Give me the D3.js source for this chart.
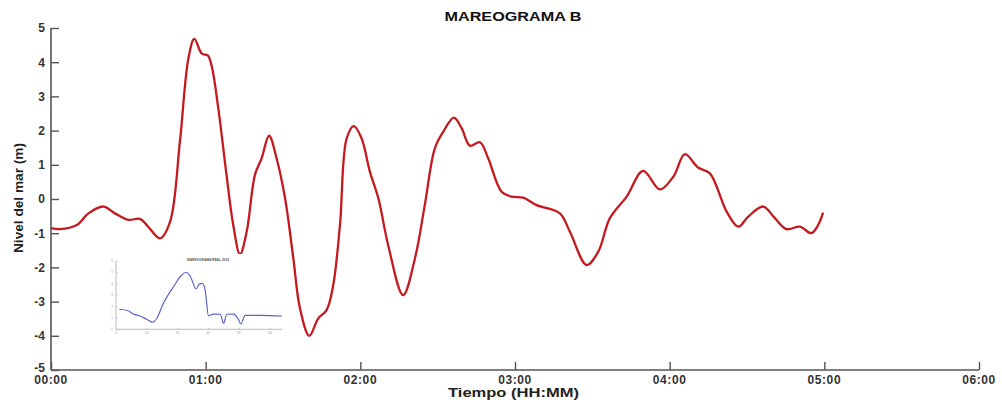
<!DOCTYPE html>
<html>
<head>
<meta charset="utf-8">
<script src="https://cdn.jsdelivr.net/npm/d3@7"></script>
<style>
html,body{margin:0;padding:0;background:#fff;}
svg{display:block;font-family:"Liberation Sans",Arial,sans-serif;}
</style>
</head>
<body>
<svg id="chart" width="1002" height="406"></svg>
<script>
// ---- data (time in minutes since 00:00, sea level in m) ----
const timeMin = [0,3.5,10,14.5,20.3,24.8,30,34.5,37.7,42.3,46.2,50,53.3,55.6,58.5,60.8,62.3,64.9,68.1,70.7,73.3,75.9,79.1,81.7,84.6,87.5,90.8,94,96.6,100.2,103.7,106.9,109.5,112.1,114.7,117.5,120.5,123.7,127,130.8,136.6,141.2,145,148.9,152.2,156.3,159.3,162.5,166.4,169.6,174.8,178.7,183.2,188.4,197.4,201.3,207.8,212.3,216.8,223.3,229.7,236.2,241.4,245.9,251,255.6,262.1,266.6,270.4,276.3,280.8,285.3,290.5,295,297.6,299.5];
const seaLevel = [-0.85,-0.88,-0.76,-0.42,-0.22,-0.42,-0.61,-0.58,-0.81,-1.15,-0.66,1.67,4.11,4.68,4.25,4.2,3.9,2.65,0.70,-0.76,-1.62,-0.96,0.70,1.19,1.85,1.19,0.02,-1.73,-3.2,-4.0,-3.49,-3.25,-2.51,-0.76,1.77,2.13,1.77,0.80,0.02,-1.35,-2.81,-1.73,-0.18,1.48,1.97,2.38,2.07,1.56,1.66,1.19,0.21,0.07,0.04,-0.18,-0.42,-0.96,-1.93,-1.54,-0.56,0.07,0.82,0.28,0.65,1.31,0.92,0.75,-0.37,-0.81,-0.52,-0.22,-0.56,-0.88,-0.81,-1.0,-0.76,-0.40];
const xTicks = [0,60,120,180,240,300,360];
const xTickLabels = ["00:00","01:00","02:00","03:00","04:00","05:00","06:00"];
const yTicks = [-5,-4,-3,-2,-1,0,1,2,3,4,5];

// inset (small reference mareogram)
const insetX = [0.11,0.40,0.56,0.78,1.0,1.20,1.33,1.54,1.87,2.14,2.28,2.41,2.61,2.70,2.81,2.90,3.01,3.17,3.39,3.50,3.61,3.82,3.98,4.06,4.20,4.69,5.40];
const insetY = [1.76,1.63,1.34,1.17,0.88,0.62,0.97,2.28,3.74,4.77,5.01,4.68,3.54,3.95,4.04,3.45,1.17,1.34,1.32,0.53,1.32,1.34,0.88,0.47,1.23,1.23,1.17];
const insetXTicks = [0,1,2,3,4,5];
const insetYTicks = [0,1,2,3,4,5,6];
const insetTitle = "MAREOGRAMA REAL 2010";

const title = "MAREOGRAMA B";
const xLabel = "Tiempo (HH:MM)";
const yLabel = "Nivel del mar (m)";

// ---- layout ----
const svg = d3.select("#chart");
const x = d3.scaleLinear().domain([0,360]).range([51,979]);
const y = d3.scaleLinear().domain([-5,5]).range([370,28]);
const axisColor = "#555";

// axes
const xAxis = svg.append("g").attr("transform","translate(0,370)")
  .call(d3.axisTop(x).tickValues(xTicks).tickSize(8).tickFormat(""));
xAxis.select(".domain").attr("stroke",axisColor).attr("stroke-width",1.6).attr("d","M51,0H979");
xAxis.selectAll(".tick line").attr("stroke",axisColor).attr("stroke-width",1.4);

const yAxis = svg.append("g").attr("transform","translate(51,0)")
  .call(d3.axisRight(y).tickValues(yTicks).tickSize(8).tickFormat(""));
yAxis.select(".domain").attr("stroke",axisColor).attr("stroke-width",1.6).attr("d","M0,28V370");
yAxis.selectAll(".tick line").attr("stroke",axisColor).attr("stroke-width",1.4);

// tick labels
svg.append("g").selectAll("text").data(xTicks).join("text")
  .attr("x",d=>x(d)).attr("y",384)
  .attr("text-anchor","middle")
  .attr("font-size",12).attr("font-weight","bold").attr("fill","#333")
  .attr("letter-spacing",0.6)
  .text((d,i)=>xTickLabels[i]);

svg.append("g").selectAll("text").data(yTicks).join("text")
  .attr("x",45).attr("y",d=>d===-5 ? y(d)+1.5 : y(d)+4.3)
  .attr("text-anchor","end")
  .attr("font-size",12).attr("font-weight","bold").attr("fill","#333")
  .text(d=>d);

// titles
svg.append("text").attr("x",513).attr("y",21).attr("text-anchor","middle")
  .attr("font-size",13.5).attr("font-weight","bold").attr("fill","#111")
  .attr("textLength",137).attr("lengthAdjust","spacingAndGlyphs")
  .text(title);
svg.append("text").attr("x",513.5).attr("y",397).attr("text-anchor","middle")
  .attr("font-size",13.5).attr("font-weight","bold").attr("fill","#222")
  .attr("textLength",131).attr("lengthAdjust","spacingAndGlyphs")
  .text(xLabel);
svg.append("text").attr("transform","translate(23,198) rotate(-90)")
  .attr("text-anchor","middle")
  .attr("font-size",13).attr("font-weight","bold").attr("fill","#222")
  .attr("textLength",110).attr("lengthAdjust","spacingAndGlyphs")
  .text(yLabel);

// main line
const pts = timeMin.map((t,i)=>[t,seaLevel[i]]);
svg.append("path").datum(pts)
  .attr("fill","none").attr("stroke","#c41a1f").attr("stroke-width",2.3)
  .attr("stroke-linejoin","round")
  .attr("d",d3.line().x(d=>x(d[0])).y(d=>y(d[1])).curve(d3.curveCatmullRom.alpha(0.5)));

// inset
const ix = d3.scaleLinear().domain([0,5.4]).range([116,282]);
const iy = d3.scaleLinear().domain([0,6]).range([329.3,261]);
const ig = svg.append("g");
ig.append("rect").attr("x",105).attr("y",254).attr("width",182).attr("height",82).attr("fill","#fff");
const iax = ig.append("g").attr("transform","translate(0,329.3)")
  .call(d3.axisTop(ix).tickValues(insetXTicks).tickSize(1.5).tickFormat(""));
iax.select(".domain").attr("stroke","#aaa").attr("stroke-width",0.8).attr("d","M116,0H282");
iax.selectAll(".tick line").attr("stroke","#aaa").attr("stroke-width",0.6);
const iay = ig.append("g").attr("transform","translate(116,0)")
  .call(d3.axisRight(iy).tickValues(insetYTicks).tickSize(1.5).tickFormat(""));
iay.select(".domain").attr("stroke","#aaa").attr("stroke-width",0.8).attr("d","M0,261V329.3");
iay.selectAll(".tick line").attr("stroke","#aaa").attr("stroke-width",0.6);
ig.append("g").selectAll("text").data(insetYTicks).join("text")
  .attr("x",113).attr("y",d=>iy(d)+1).attr("text-anchor","end")
  .attr("font-size",3).attr("fill","#999").text(d=>d);
ig.append("g").selectAll("text").data(insetXTicks).join("text")
  .attr("x",d=>ix(d)).attr("y",333.5).attr("text-anchor","middle")
  .attr("font-size",3).attr("fill","#999").text(d=>d*20);
ig.append("text").attr("x",208).attr("y",260.5).attr("text-anchor","middle")
  .attr("font-size",3.2).attr("font-weight","bold").attr("fill","#555")
  .attr("textLength",42).attr("lengthAdjust","spacingAndGlyphs")
  .text(insetTitle);
ig.append("path").datum(insetX.map((v,i)=>[v,insetY[i]]))
  .attr("fill","none").attr("stroke","#5b63c4").attr("stroke-width",1.2)
  .attr("d",d3.line().x(d=>ix(d[0])).y(d=>iy(d[1])).curve(d3.curveMonotoneX));
</script>
</body>
</html>
